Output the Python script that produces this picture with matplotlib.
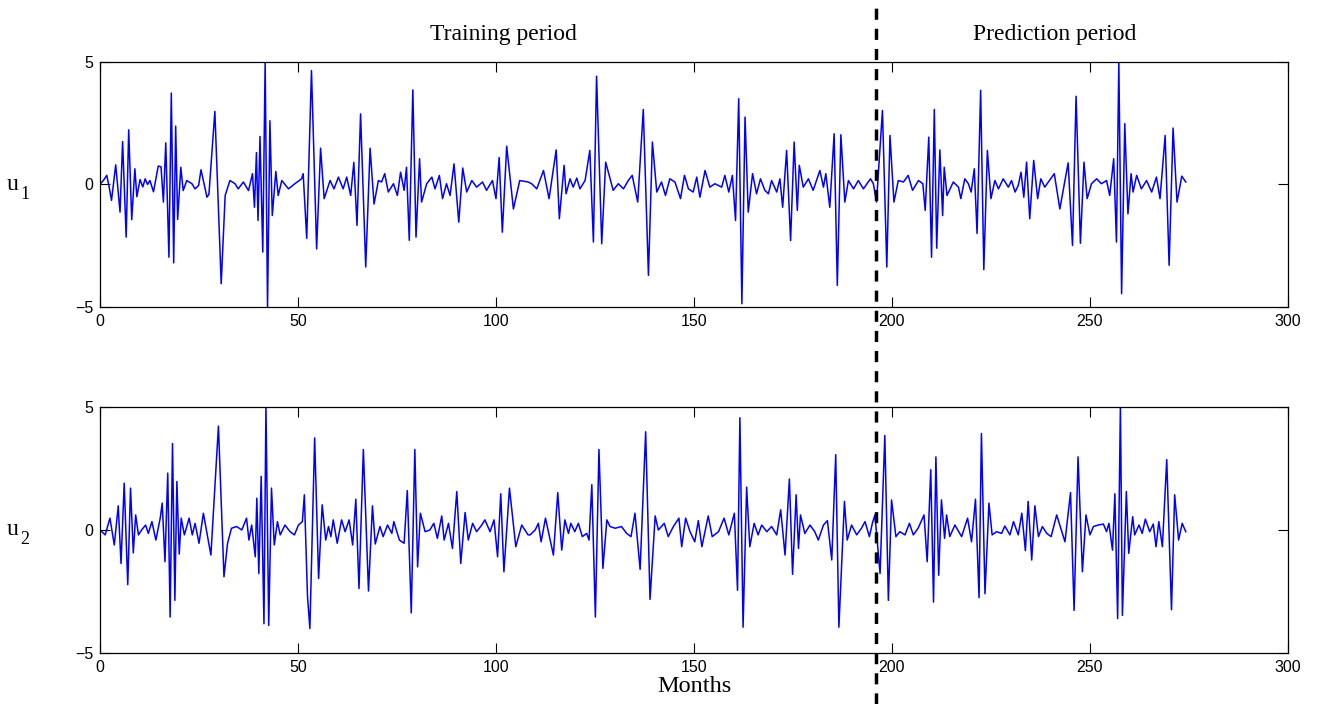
import matplotlib
matplotlib.use("Agg")
import matplotlib.pyplot as plt
from matplotlib.lines import Line2D

# (month, value) vertices
u1_points = [
    (0.0, 0.0), (1.0, 0.2), (1.7, 0.37), (2.3, -0.1), (2.9, -0.65), (3.96, 0.8), (5.05, -1.13),
    (5.7, 1.75), (6.6, -2.15), (7.24, 2.23), (8.0, -1.44), (8.8, 0.64), (9.3, -0.5), (10.1, 0.2),
    (10.8, -0.1), (11.4, 0.23), (12.0, 0.0), (12.6, 0.16), (13.5, -0.3), (14.7, 0.75), (15.4, 0.72),
    (16.0, -0.72), (16.6, 1.7), (17.4, -2.97), (18.0, 3.73), (18.6, -3.2), (19.1, 2.38), (19.6, -1.43),
    (20.4, 0.7), (21.0, -0.25), (21.9, 0.16), (23.2, 0.03), (24.0, -0.18), (24.9, -0.04), (25.5, 0.6),
    (27.0, -0.52), (27.5, -0.4), (29.0, 2.98), (30.6, -4.05), (31.6, -0.45), (32.8, 0.16), (34.1, 0.03),
    (34.9, -0.18), (36.2, 0.1), (37.5, -0.25), (38.5, 0.44), (39.0, -0.93), (39.5, 1.3), (39.9, -1.47),
    (40.4, 1.96), (41.1, -2.76), (41.7, 5.0), (42.3, -5.05), (42.9, 2.6), (43.5, -1.27), (44.4, 0.53),
    (45.0, -0.45), (45.9, 0.16), (47.6, -0.18), (49.2, 0.03), (50.9, 0.23), (51.3, 0.44), (52.2, -2.2),
    (53.4, 4.65), (54.7, -2.63), (55.7, 1.48), (56.6, -0.58), (58.1, 0.16), (59.1, -0.18), (60.2, 0.3),
    (61.4, -0.18), (62.3, 0.3), (63.3, -0.45), (64.1, 0.9), (64.9, -1.67), (65.8, 2.88), (67.1, -3.37),
    (68.2, 1.48), (69.2, -0.8), (70.3, 0.16), (71.1, 0.1), (71.9, 0.44), (72.8, -0.31), (74.1, 0.03),
    (75.1, -0.45), (75.9, 0.5), (76.8, -0.24), (77.4, 0.7), (78.1, -2.28), (79.0, 3.86), (79.8, -2.15),
    (80.7, 1.05), (81.2, -0.72), (82.5, 0.03), (83.8, 0.3), (84.6, -0.18), (85.7, 0.37), (86.5, -0.58),
    (87.5, 0.03), (88.4, -0.45), (89.4, 0.84), (90.6, -1.54), (91.6, 0.67), (92.6, -0.31), (93.9, 0.16),
    (95.1, -0.11), (96.6, 0.1), (97.6, -0.24), (99.1, 0.16), (100.0, -0.58), (100.8, 1.1), (101.6, -1.95),
    (102.7, 1.56), (104.4, -1.0), (106.0, 0.16), (108.1, 0.1), (109.0, 0.03), (110.3, -0.18), (112.0, 0.57),
    (113.4, -0.58), (115.2, 1.41), (116.0, -1.4), (117.2, 0.78), (117.7, -0.38), (118.7, 0.23),
    (119.5, -0.11), (120.4, 0.26), (121.2, -0.18), (122.5, 0.16), (123.7, 1.39), (124.6, -2.35),
    (125.4, 4.42), (126.7, -2.42), (127.7, 0.91), (129.6, -0.24), (130.9, 0.03), (132.2, -0.18),
    (133.4, 0.16), (134.4, 0.37), (135.8, -0.72), (137.2, 3.06), (138.5, -3.71), (139.5, 1.73),
    (140.6, -0.31), (141.8, 0.1), (142.8, -0.45), (143.9, 0.23), (145.2, 0.1), (146.6, -0.58),
    (147.6, 0.37), (148.6, -0.18), (149.8, -0.31), (150.7, 0.3), (151.5, -0.52), (152.8, 0.57),
    (154.0, -0.11), (155.3, 0.03), (157.0, -0.11), (157.8, 0.37), (158.8, -0.31), (159.7, 0.37),
    (160.5, -1.47), (161.3, 3.5), (162.1, -4.87), (162.9, 2.75), (163.7, -1.13), (164.8, 0.44),
    (165.8, -0.38), (166.8, 0.23), (167.9, -0.24), (168.8, -0.38), (169.6, 0.16), (170.9, -0.31),
    (171.7, 0.23), (172.4, -0.93), (173.4, 1.39), (174.4, -2.29), (175.3, 1.73), (176.1, -1.06),
    (176.6, 0.78), (177.6, -0.11), (178.9, 0.23), (180.1, -0.24), (181.8, 0.57), (182.7, -0.11),
    (183.3, 0.44), (184.3, -0.93), (185.4, 2.07), (186.2, -4.12), (187.1, 2.03), (188.1, -0.72),
    (189.0, 0.16), (190.3, -0.18), (191.5, 0.16), (192.8, -0.18), (194.0, 0.1), (194.6, 0.23),
    (195.3, 0.03), (196.1, -0.72), (197.6, 3.02), (198.7, -3.37), (199.5, 2.0), (200.5, -0.72),
    (201.6, 0.16), (202.9, 0.1), (204.1, 0.37), (205.2, -0.24), (206.7, 0.16), (207.8, 0.03),
    (208.4, -1.06), (209.3, 1.93), (210.0, -2.97), (210.7, 3.06), (211.3, -2.6), (212.1, 1.41),
    (212.8, -1.27), (213.2, 0.7), (213.9, -0.45), (215.5, 0.1), (216.8, -0.11), (217.4, -0.58),
    (218.4, 0.23), (219.3, 0.03), (220.0, -0.31), (220.8, 0.64), (221.5, -2.0), (222.4, 3.84),
    (223.2, -3.48), (224.1, 1.39), (225.0, -0.58), (226.0, 0.16), (226.9, -0.18), (228.1, 0.23),
    (229.4, -0.11), (230.2, 0.16), (231.1, -0.31), (231.9, -0.04), (232.6, 0.5), (233.3, -0.52),
    (234.0, 0.91), (234.8, -1.4), (235.8, 0.98), (236.8, -0.58), (237.6, 0.23), (238.6, -0.11),
    (239.5, 0.1), (241.0, 0.44), (242.4, -1.0), (244.5, 0.88), (245.6, -2.49), (246.5, 3.6),
    (247.6, -2.4), (248.5, 0.91), (249.3, -0.58), (250.4, 0.03), (251.7, 0.23), (252.9, 0.03),
    (254.2, 0.16), (255.0, -0.45), (256.0, 1.05), (256.7, -2.35), (257.3, 4.97), (258.0, -4.46),
    (258.8, 2.48), (259.6, -1.2), (260.4, 0.44), (260.9, -0.31), (261.8, 0.37), (263.0, -0.18),
    (264.3, 0.16), (265.6, -0.31), (266.8, 0.3), (267.7, -0.58), (269.0, 2.0), (270.0, -3.3),
    (271.0, 2.3), (272.0, -0.72), (273.2, 0.34), (274.2, 0.1),
]

u2_points = [
    (0.0, 0.0), (1.3, -0.2), (2.5, 0.48), (3.6, -0.61), (4.6, 0.98), (5.3, -1.36), (6.1, 1.9),
    (7.0, -2.22), (7.7, 1.7), (8.4, -0.93), (9.0, 0.61), (9.7, -0.2), (10.5, 0.0), (11.5, 0.2),
    (12.2, -0.14), (13.1, 0.34), (14.1, -0.41), (15.2, 0.48), (15.7, 1.09), (16.4, -1.29), (17.1, 2.31),
    (17.7, -3.54), (18.3, 3.51), (18.9, -2.86), (19.4, 1.97), (20.0, -0.98), (20.5, 0.48), (21.3, -0.2),
    (22.5, 0.48), (23.3, -0.2), (24.0, 0.27), (25.0, -0.54), (26.1, 0.68), (28.0, -1.02), (29.9, 4.22),
    (31.3, -1.9), (32.2, -0.54), (33.2, 0.07), (34.5, 0.14), (35.8, 0.0), (37.0, 0.48), (37.6, -0.41),
    (38.3, 0.2), (39.2, -1.09), (39.6, 1.29), (40.1, -1.77), (40.7, 2.18), (41.4, -3.81), (41.9, 5.05),
    (42.6, -3.88), (43.3, 1.7), (44.0, -0.61), (44.8, 0.34), (45.5, -0.2), (46.7, 0.2), (48.0, -0.07),
    (49.1, -0.2), (50.1, 0.2), (51.1, 0.34), (51.6, 1.43), (52.4, -2.72), (53.0, -4.0), (54.2, 3.74),
    (55.2, -1.97), (56.1, 1.02), (57.0, -0.41), (57.7, 0.14), (58.3, -0.27), (58.9, 0.41), (59.9, -0.54),
    (61.0, 0.41), (61.9, -0.07), (62.9, 0.41), (63.8, -0.61), (64.6, 1.25), (65.4, -2.38), (66.5, 3.27),
    (67.8, -2.48), (68.8, 0.98), (69.5, -0.57), (70.7, 0.14), (71.5, -0.27), (72.6, 0.2), (73.7, -0.14),
    (74.2, 0.34), (75.6, -0.41), (76.8, -0.54), (77.6, 1.6), (78.6, -3.37), (79.5, 3.27), (80.2, -1.5),
    (80.9, 0.68), (82.1, -0.07), (83.3, 0.0), (84.3, 0.27), (85.2, -0.34), (86.3, 0.57), (86.9, -0.41),
    (88.0, 0.27), (89.0, -0.75), (90.1, 1.56), (91.1, -1.36), (92.2, 0.71), (93.0, -0.41), (94.1, 0.27),
    (95.1, -0.07), (96.4, 0.2), (97.2, 0.41), (98.5, -0.07), (99.5, 0.41), (100.4, -1.09), (101.2, 1.47),
    (102.0, -1.7), (103.4, 1.7), (105.0, -0.68), (106.5, 0.2), (108.1, -0.2), (108.6, -0.2), (109.9, 0.0),
    (110.7, 0.27), (111.4, -0.48), (112.5, 0.48), (114.5, -1.02), (115.6, 1.52), (116.6, -0.82),
    (117.4, 0.41), (118.3, -0.14), (118.9, 0.27), (119.9, -0.07), (120.8, 0.27), (121.8, -0.27),
    (122.9, -0.14), (123.5, -0.41), (124.2, 1.84), (125.1, -3.54), (126.0, 3.27), (127.0, -1.56),
    (128.0, 0.41), (128.8, 0.14), (130.1, 0.07), (131.7, 0.14), (133.0, -0.14), (134.1, -0.27),
    (135.1, 0.68), (136.4, -1.6), (137.8, 3.99), (138.9, -2.82), (140.2, 0.57), (141.0, 0.0),
    (142.5, 0.27), (143.5, -0.27), (144.8, 0.14), (146.2, 0.48), (146.9, -0.68), (147.9, 0.48),
    (149.0, -0.07), (150.2, -0.48), (151.1, 0.38), (152.0, -0.68), (153.6, 0.57), (154.6, -0.27),
    (156.2, -0.07), (157.6, 0.48), (158.8, -0.2), (160.2, 0.68), (161.0, -2.45), (161.6, 4.56),
    (162.4, -3.95), (163.3, 1.74), (164.1, -0.68), (165.2, 0.27), (166.2, -0.2), (167.1, 0.2),
    (168.4, -0.07), (169.6, 0.14), (170.9, -0.2), (171.9, 0.82), (173.0, -1.02), (174.1, 2.07),
    (174.9, -1.8), (175.8, 1.43), (176.4, -0.75), (176.9, 0.61), (178.0, -0.14), (179.3, 0.2),
    (180.5, -0.07), (181.4, -0.41), (182.7, 0.2), (183.7, 0.38), (184.8, -1.22), (185.8, 3.06),
    (186.6, -3.95), (188.0, 1.16), (188.7, -0.41), (189.8, 0.2), (191.1, -0.2), (192.3, 0.07),
    (193.2, 0.34), (194.3, -0.27), (195.1, 0.3), (195.7, 0.61), (197.0, -1.77), (198.2, 3.84),
    (199.1, -2.86), (199.9, 1.22), (201.0, -0.27), (202.0, -0.07), (203.3, -0.2), (204.4, 0.27),
    (205.4, -0.2), (206.6, 0.07), (208.1, 0.61), (208.9, -1.29), (209.8, 2.45), (210.5, -2.93),
    (211.1, 2.97), (211.8, -1.84), (212.5, 1.22), (213.3, -0.34), (213.8, 0.61), (214.6, -0.27),
    (215.9, 0.2), (217.6, -0.27), (219.1, 0.48), (220.1, -0.48), (221.1, 1.25), (222.0, -2.75),
    (222.6, 3.92), (223.5, -2.59), (224.5, 1.09), (225.3, -0.2), (226.4, -0.07), (227.7, -0.14),
    (228.5, 0.16), (229.8, -0.2), (230.7, 0.34), (231.9, -0.2), (232.8, 0.68), (233.7, -0.84),
    (234.4, 1.16), (235.3, -1.22), (236.1, 0.98), (237.0, -0.27), (238.0, 0.14), (239.1, -0.14),
    (240.2, -0.27), (241.6, 0.61), (243.7, -0.48), (245.1, 1.52), (246.0, -3.27), (247.0, 2.97),
    (248.1, -1.7), (249.0, 0.61), (250.0, -0.2), (250.9, 0.14), (252.1, 0.2), (253.4, 0.24),
    (254.2, -0.07), (254.8, 0.27), (255.7, -0.82), (256.3, 1.47), (257.0, -3.6), (257.7, 5.05),
    (258.2, -3.47), (259.2, 1.56), (259.8, -0.95), (260.8, 0.54), (261.3, -0.2), (262.4, 0.2),
    (263.2, -0.14), (264.0, 0.44), (265.1, -0.07), (266.0, 0.24), (266.7, -0.68), (267.4, 0.34),
    (268.3, -0.68), (269.4, 2.86), (270.6, -3.24), (271.4, 1.43), (272.4, -0.41), (273.3, 0.27),
    (274.2, -0.07),
]

split_month = 196
xticks = [0, 50, 100, 150, 200, 250, 300]
yticks = [-5, 0, 5]
ylabels = ['1', '2']
period_titles = [("Training period", 102), ("Prediction period", 241)]

fig = plt.figure(figsize=(13.25, 7.04), dpi=100)
ax1 = fig.add_axes([0.0755, 0.564, 0.8965, 0.348])
ax2 = fig.add_axes([0.0755, 0.0724, 0.8965, 0.3496])

for ax, pts, sub in zip([ax1, ax2], [u1_points, u2_points], ylabels):
    months = [p[0] for p in pts]
    vals = [p[1] for p in pts]
    ax.plot(months, vals, color='#0000ff', linewidth=1.1)
    ax.set_xlim(0, 300)
    ax.set_ylim(-5, 5)
    ax.set_xticks(xticks)
    ax.set_yticks(yticks)
    ax.tick_params(direction='in', top=True, right=True, length=7, width=0.8,
                   labelsize=11.5, pad=5)
    for lbl in ax.get_xticklabels() + ax.get_yticklabels():
        lbl.set_fontfamily('Liberation Sans')
    for s in ax.spines.values():
        s.set_linewidth(0.9)
    # "u" with a low subscript, like the original
    ax.text(-0.0735, 0.5, 'u', transform=ax.transAxes, fontsize=17,
            family='Liberation Serif', ha='center', va='center')
    ax.text(-0.0635, 0.46, sub, transform=ax.transAxes, fontsize=13,
            family='Liberation Serif', ha='center', va='center')

for title, xm in period_titles:
    ax1.text(xm, 1.114, title, transform=ax1.get_xaxis_transform(),
             fontsize=17, family='Liberation Serif', ha='center', va='center')

ax2.set_xlabel("Months", fontsize=17.5, family='Liberation Serif', labelpad=1)

# dashed split line spanning both panels
xf = fig.transFigure.inverted().transform(ax1.transData.transform((split_month, 0)))[0]
fig.add_artist(Line2D([xf, xf], [0.0, 0.993], transform=fig.transFigure,
                      color='black', linewidth=2.5, linestyle=(0, (3.2, 2.6))))

fig.savefig("out.png", dpi=100)
